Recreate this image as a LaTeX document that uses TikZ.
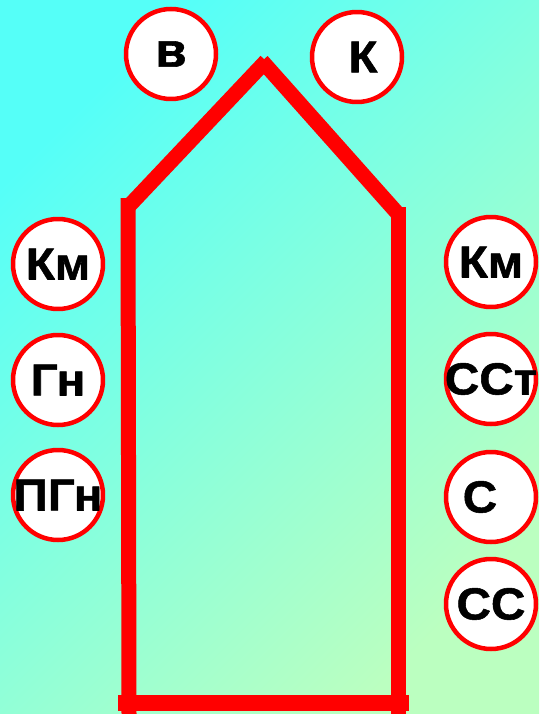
\documentclass[tikz,border=0pt]{standalone}
\usepackage{fontspec}
\setmainfont{Liberation Sans}
\newfontfamily\chipfont[FakeStretch=1.06,FakeBold=1.2]{Liberation Sans Bold}
\definecolor{skyc}{RGB}{85,255,248}
\definecolor{mintc}{RGB}{187,255,192}
\tikzset{
  chip/.style={circle,draw=red,line width=4.5pt,fill=white,minimum size=90pt,inner sep=0pt,
    font=\chipfont\fontsize{45}{45}\selectfont,
    execute at begin node=\hbox to 0pt\bgroup\hss,
    execute at end node=\hss\egroup},
  wall/.style={draw=red,line width=15pt,line cap=butt}
}
\begin{document}
\begin{tikzpicture}[x=1pt,y=-1pt,line join=round]
		\useasboundingbox (0,0) rectangle (539,714);
		\shade[top color=skyc,bottom color=mintc,shading angle=45] (0,0) rectangle (539,714);
		\draw[wall] (128,207)--(266,61);
		\draw[wall] (262,61)--(399,215);
		\draw[wall] (128,198)--(129,714);
		\draw[wall] (398,207)--(398,714);
		\draw[wall,line width=16pt] (118,703)--(409,703);
		\node[chip] (v) at (171,54) {\fontsize{48}{48}\selectfont в};
		\node[chip] (k) at (357,57) {\kern12pt К};
		\node[chip] (km1) at (58,264) {Км};
		\node[chip] (gn) at (58,380) {Гн};
		\node[chip] (pgn) at (58,495) {ПГн};
		\node[chip] (km2) at (491,262) {Км};
		\node[chip] (sst) at (491,379) {ССт};
		\node[chip] (s) at (491,497) {С\kern22pt};
		\node[chip] (ss) at (491,604) {СС};
\end{tikzpicture}
\end{document}
